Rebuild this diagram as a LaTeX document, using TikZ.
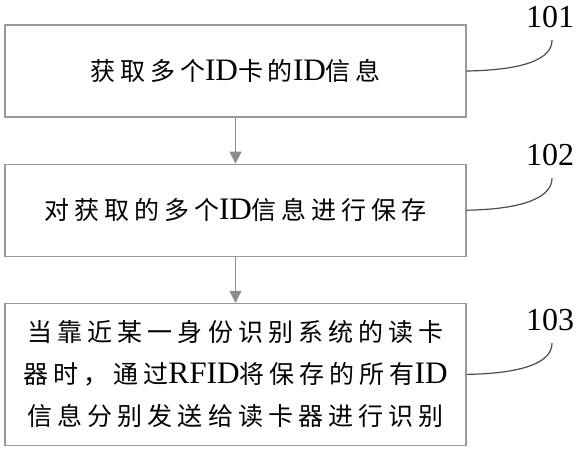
\documentclass[tikz,border=0pt]{standalone}
\usepackage{fontspec}
\setmainfont{Liberation Serif}
\newfontfamily\cjk[LetterSpace=20]{Noto Sans CJK SC}
\newfontfamily\latf[Scale=1.25]{Liberation Serif}
\newcommand{\lat}[1]{{\latf #1}}
\usepackage{tikz}
\usetikzlibrary{positioning, arrows.meta, calc}

\begin{document}
\begin{tikzpicture}[
    x=0.5pt, y=-0.5pt,
    node distance=23pt,
    box/.style={
        draw=black!40,
        line width=0.6pt,
        minimum width=230.5pt,
        minimum height=46pt,
        align=center,
        font=\cjk\fontsize{12.5pt}{21pt}\selectfont
    },
    tag/.style={font=\fontsize{16pt}{18pt}\selectfont, inner sep=0pt},
    arr/.style={-{Triangle[width=6pt,length=6pt]}, draw=black!45, line width=0.6pt},
    lead/.style={draw=black!70, line width=0.6pt}
]
  \useasboundingbox (0,0) rectangle (577,450);

  % steps
  \node[box] (s1) at (235.5,71) {获取多个\lat{ID}卡的\lat{ID}信息};
  \node[box,below=of s1] (s2) {对获取的多个\lat{ID}信息进行保存};
  \node[box,below=of s2,minimum height=71pt] (s3)
    {当靠近某一身份识别系统的读卡\\器时，通过\lat{RFID}将保存的所有\lat{ID}\\信息分别发送给读卡器进行识别};

  \draw[arr] (s1) -- (s2);
  \draw[arr] (s2) -- (s3);

  % reference numbers
  \node[tag] (n1) at (550,17) {101};
  \node[tag] (n2) at (550,155) {102};
  \node[tag] (n3) at (550,320) {103};

  \draw[lead] (s1.east) .. controls +(60,-1) and +(0,18) .. ($(n1.south)+(2,12)$);
  \draw[lead] (s2.east) .. controls +(60,-1) and +(0,18) .. ($(n2.south)+(2,12)$);
  \draw[lead] (s3.east) .. controls +(60,-1) and +(0,18) .. ($(n3.south)+(2,12)$);
\end{tikzpicture}
\end{document}
